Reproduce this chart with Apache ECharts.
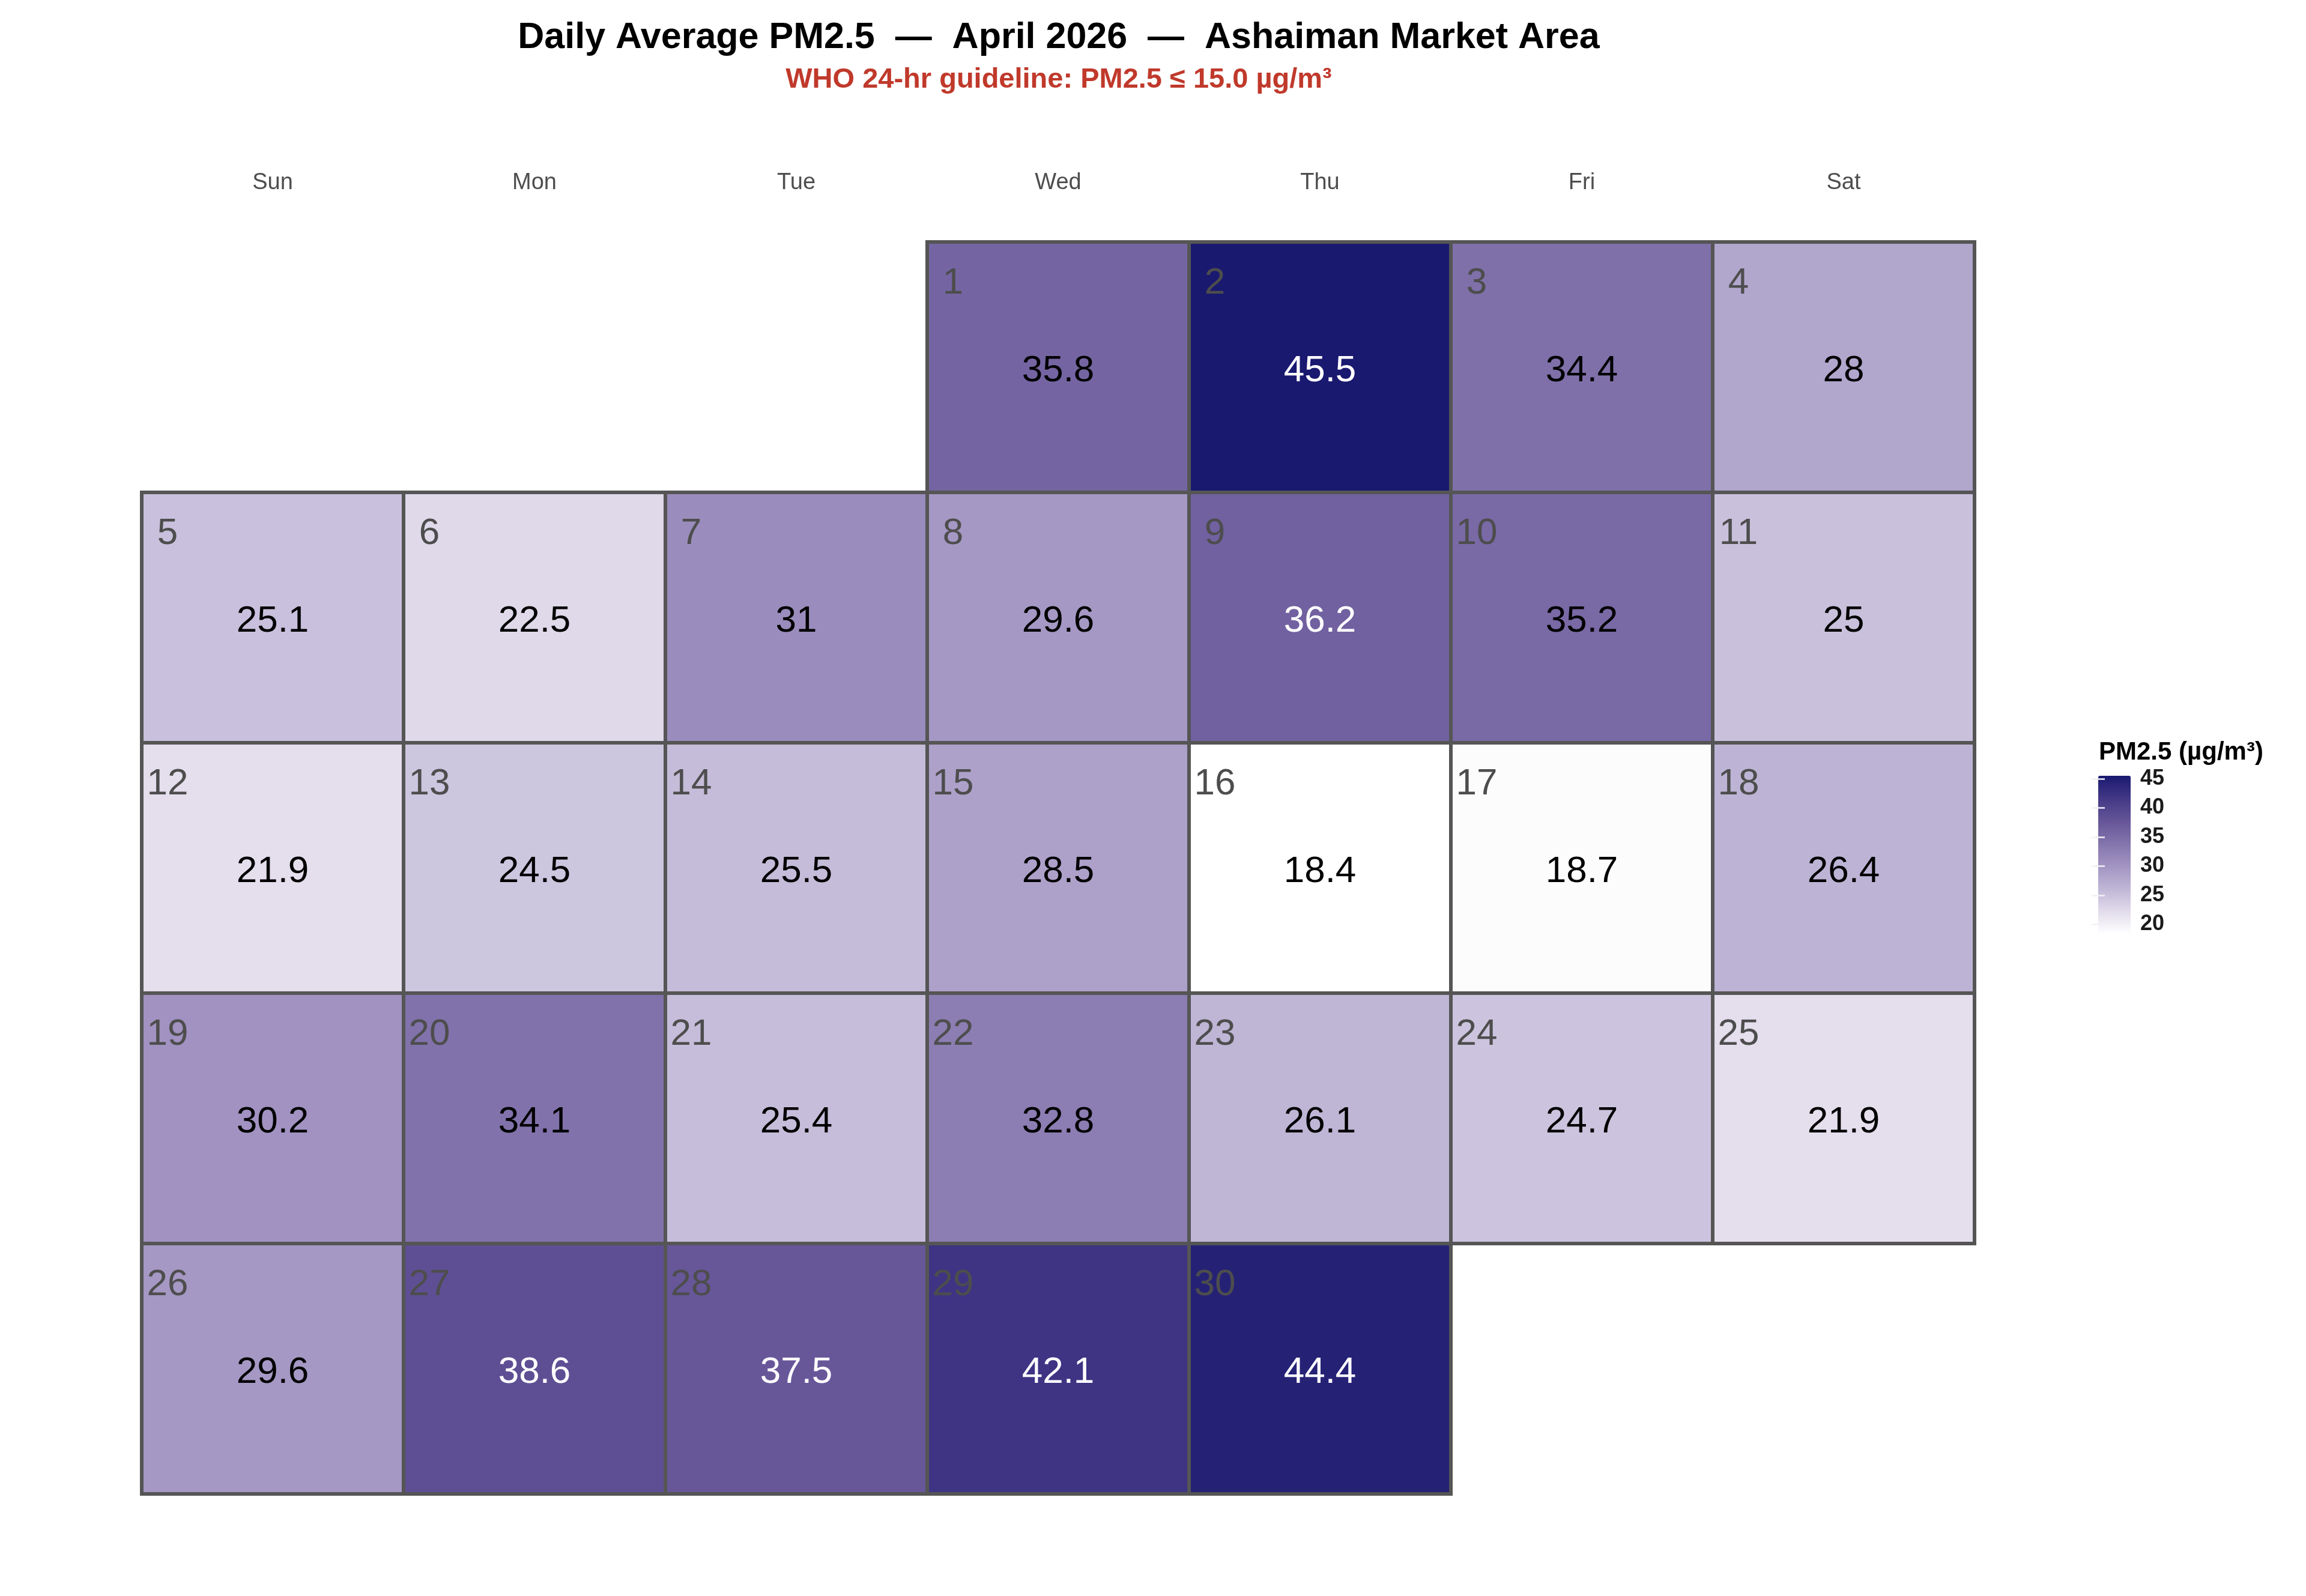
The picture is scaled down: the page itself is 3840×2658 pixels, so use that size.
<!DOCTYPE html>
<html>
<head>
<meta charset="utf-8">
<title>Daily Average PM2.5 - April 2026 - Ashaiman Market Area</title>
<script src="https://cdn.jsdelivr.net/npm/echarts@6/dist/echarts.min.js"></script>
<style>
  html, body { margin: 0; padding: 0; background: #ffffff; }
  #pmCalendar { width: 3840px; height: 2658px; }
</style>
</head>
<body>
<div id="pmCalendar"></div>
<script>
// daily PM2.5 for April 2026, one value per day
const month = '2026-04';
const dayNumbers = [1, 2, 3, 4, 5, 6, 7, 8, 9, 10, 11, 12, 13, 14, 15,
  16, 17, 18, 19, 20, 21, 22, 23, 24, 25, 26, 27, 28, 29, 30];
const pm25 = [35.8, 45.5, 34.4, 28, 25.1, 22.5, 31, 29.6, 36.2, 35.2,
  25, 21.9, 24.5, 25.5, 28.5, 18.4, 18.7, 26.4, 30.2, 34.1,
  25.4, 32.8, 26.1, 24.7, 21.9, 29.6, 38.6, 37.5, 42.1, 44.4];
const weekdayLabels = ['Sun', 'Mon', 'Tue', 'Wed', 'Thu', 'Fri', 'Sat'];
const legendTicks = [20, 25, 30, 35, 40, 45];

const fontFamily = '"Liberation Sans", Arial, sans-serif';
const rampColors = ['#ffffff', '#e1dbeb', '#bfb6d6', '#a294c2',
  '#8374ac', '#655598', '#433886', '#191970'];
const pmMin = Math.min(...pm25);
const pmMax = Math.max(...pm25);

const seriesData = dayNumbers.map(function (d, i) {
  const dd = d < 10 ? '0' + d : String(d);
  return [month + '-' + dd, pm25[i], d];
});

function renderDay(params, api) {
  const center = api.coord(api.value(0));
  const w = params.coordSys.cellWidth;
  const h = params.coordSys.cellHeight;
  const value = api.value(1);
  const x0 = center[0] - w / 2;
  const y0 = center[1] - h / 2;
  return {
    type: 'group',
    children: [
      {
        type: 'rect',
        shape: { x: x0, y: y0, width: w, height: h },
        style: { fill: api.visual('color'), stroke: '#555555', lineWidth: 6 }
      },
      {
        type: 'text',
        style: {
          text: String(api.value(2)),
          x: x0 + 43, y: y0 + 69,
          align: 'center', verticalAlign: 'middle',
          fill: '#4d4d4d', fontSize: 62, fontFamily: fontFamily
        }
      },
      {
        type: 'text',
        style: {
          text: String(value),
          x: center[0], y: center[1] + 6,
          align: 'center', verticalAlign: 'middle',
          fill: value > 36 ? '#ffffff' : '#000000',
          fontSize: 62, fontFamily: fontFamily
        }
      }
    ]
  };
}

const chart = echarts.init(document.getElementById('pmCalendar'));
chart.setOption({
  backgroundColor: '#ffffff',
  animation: false,
  textStyle: { fontFamily: fontFamily },
  title: [
    {
      text: 'Daily Average PM2.5  \u2014  April 2026  \u2014  Ashaiman Market Area',
      left: 1763, top: 33, textAlign: 'center', padding: 0,
      textStyle: { fontSize: 61, fontWeight: 'bold', color: '#000000', fontFamily: fontFamily }
    },
    {
      text: 'WHO 24-hr guideline: PM2.5 \u2264 15.0 \u00b5g/m\u00b3',
      left: 1763, top: 110, textAlign: 'center', padding: 0,
      textStyle: { fontSize: 47, fontWeight: 'bold', color: '#c0392b', fontFamily: fontFamily }
    },
    {
      text: 'PM2.5 (\u00b5g/m\u00b3)',
      left: 3495, top: 1232, padding: 0,
      textStyle: { fontSize: 42, fontWeight: 'bold', color: '#000000', fontFamily: fontFamily }
    }
  ],
  visualMap: {
    type: 'continuous',
    min: pmMin,
    max: pmMax,
    dimension: 1,
    seriesIndex: 0,
    orient: 'vertical',
    left: 3494,
    top: 1292,
    itemWidth: 54,
    itemHeight: 263,
    padding: 0,
    calculable: false,
    text: null,
    hoverLink: false,
    inRange: { color: rampColors }
  },
  calendar: {
    orient: 'vertical',
    range: month,
    left: 236,
    top: 403,
    cellSize: [436, 417],
    splitLine: { show: false },
    itemStyle: { color: 'transparent', borderWidth: 0 },
    dayLabel: {
      firstDay: 0,
      position: 'start',
      nameMap: weekdayLabels,
      margin: 79,
      color: '#4d4d4d',
      fontSize: 38,
      fontFamily: fontFamily
    },
    monthLabel: { show: false },
    yearLabel: { show: false }
  },
  // small grid laid over the colour bar, only for its tick marks and labels
  grid: { left: 3494, top: 1292, width: 54, height: 263 },
  xAxis: { type: 'value', show: false, min: 0, max: 1 },
  yAxis: [
    {
      type: 'value', min: pmMin, max: pmMax, position: 'right', z: 10,
      axisLine: { show: false },
      splitLine: { show: false },
      axisTick: {
        show: true, inside: true, length: 11, customValues: legendTicks,
        lineStyle: { color: '#f2f0f7', width: 2.5 }
      },
      axisLabel: {
        customValues: legendTicks, margin: 16,
        fontSize: 36, fontWeight: 'bold', color: '#1a1a1a', fontFamily: fontFamily
      }
    },
    {
      type: 'value', min: pmMin, max: pmMax, position: 'left', z: 10,
      axisLine: { show: false },
      splitLine: { show: false },
      axisTick: {
        show: true, inside: true, length: 11, customValues: legendTicks,
        lineStyle: { color: '#f2f0f7', width: 2.5 }
      },
      axisLabel: { show: false }
    }
  ],
  series: [
    {
      type: 'custom',
      coordinateSystem: 'calendar',
      renderItem: renderDay,
      data: seriesData
    }
  ]
});
</script>
</body>
</html>
